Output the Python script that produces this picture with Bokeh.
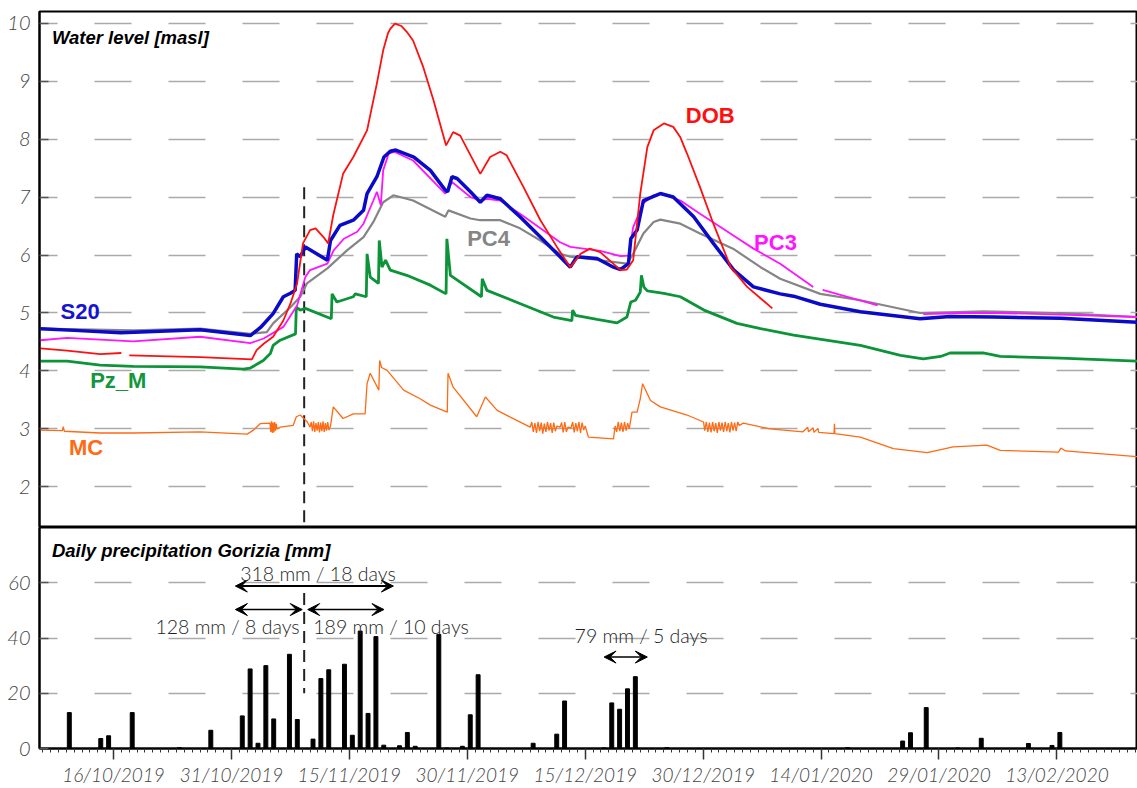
import numpy as np
import pandas as pd
from bokeh.plotting import figure
from bokeh.layouts import column
from bokeh.models import (FixedTicker, DatetimeTickFormatter, Range1d, Label,
                          Arrow, VeeHead)
from bokeh.embed import file_html
from bokeh.resources import INLINE

nan = float("nan")

# ---------------- data ----------------
DAY0 = "2019-10-16"              # reference date for the day offsets below
X_START = "2019-10-06 14:00"
X_END = "2020-02-23 06:00"

tick_labels = ["16/10/2019", "31/10/2019", "15/11/2019", "30/11/2019", "15/12/2019",
               "30/12/2019", "14/01/2020", "29/01/2020", "13/02/2020"]
level_ticks = [2, 3, 4, 5, 6, 7, 8, 9, 10]
precip_ticks = [0, 20, 40, 60]

# water levels [masl] -- days after DAY0
s20_day = [-9.3, -5.0, 0.9, 11.0, 17.4, 18.7, 20.3, 21.6, 22.5, 23.1, 23.3, 23.75, 24.4, 27.2,
           27.6, 28.8, 30.5, 31.8, 32.25, 33.5, 34.4, 35.2, 35.9, 38.2, 40.3, 42.2, 42.5, 43.05,
           43.7, 45.4, 46.65, 47.5, 49.2, 51.7, 54.3, 56.8, 58.1, 58.95, 61.5, 63.6, 64.5, 65.5,
           65.8, 66.6, 67.4, 69.55, 71.2, 73.8, 76.3, 78.9, 81.4, 84.8, 86.5, 89.9, 95.0, 102.6,
           106.4, 112.0, 120.5, 130.3]
s20_level = [4.73, 4.70, 4.66, 4.71, 4.61, 4.75, 4.99, 5.28, 5.34, 5.39, 6.02, 5.97, 6.14, 5.91,
             6.25, 6.51, 6.60, 6.77, 7.06, 7.35, 7.69, 7.79, 7.81, 7.69, 7.46, 7.12, 7.09, 7.35,
             7.32, 7.09, 6.91, 7.03, 6.97, 6.66, 6.31, 5.97, 5.79, 5.97, 5.94, 5.79, 5.75, 5.85,
             6.28, 6.43, 6.94, 7.06, 7.00, 6.66, 6.20, 5.74, 5.45, 5.33, 5.29, 5.15, 5.02, 4.90,
             4.94, 4.93, 4.91, 4.84]

pc3_day = [-9.3, -5.9, 2.5, 11.0, 17.4, 19.1, 21.6, 23.35, 24.4, 25.0, 27.2, 28.0, 29.3, 31.0,
           31.8, 33.05, 33.5, 34.0, 34.3, 35.0, 35.7, 38.1, 42.2, 43.05, 45.4, 46.65, 47.5, 49.2,
           51.7, 54.3, 56.8, 58.1, 61.9, 64.5, 65.5, 66.1, 67.4, 68.7, 69.55, 72.1, 74.6, 78.8,
           81.4, 84.8, 89.0, 89.6, 90.2, 97.2, 100.0, 103.0, 107.7, 112.8, 120.5, 130.3]
pc3_level = [4.53, 4.57, 4.51, 4.59, 4.48, 4.56, 4.76, 5.13, 5.62, 5.74, 5.85, 6.08, 6.28, 6.40,
             6.54, 6.94, 7.09, 6.86, 7.46, 7.75, 7.78, 7.63, 7.06, 7.26, 7.00, 6.94, 6.97, 6.94,
             6.71, 6.46, 6.22, 6.14, 6.07, 5.98, 5.99, 6.48, 6.89, 7.03, 7.06, 6.94, 6.71, 6.34,
             6.11, 5.85, 5.45, nan, 5.40, 5.13, nan, 4.98, 5.00, 5.00, 4.97, 4.93]

pc4_day = [-9.3, 2.5, 11.0, 17.4, 19.5, 20.3, 22.5, 23.75, 24.6, 27.2, 29.7, 31.8, 33.05, 34.3,
           35.6, 38.1, 42.2, 42.6, 45.4, 46.65, 49.2, 51.7, 54.3, 56.8, 58.1, 61.9, 65.3, 66.1,
           67.4, 68.7, 69.55, 72.1, 74.6, 78.8, 82.3, 84.8, 89.9, 95.0, 102.6, 110.6, 120.5, 130.3]
pc4_level = [4.73, 4.70, 4.73, 4.64, 4.67, 4.82, 5.10, 5.28, 5.51, 5.77, 6.08, 6.31, 6.57, 6.91,
             7.03, 6.94, 6.66, 6.77, 6.63, 6.60, 6.60, 6.46, 6.25, 6.02, 5.97, 5.91, 5.85, 6.02,
             6.37, 6.57, 6.61, 6.54, 6.37, 6.11, 5.79, 5.59, 5.33, 5.22, 5.00, 5.03, 5.00, 4.93]

dob_day = [-9.3, -5.9, -1.7, 1.0, 1.5, 2.0, 11.0, 17.6, 18.2, 19.1, 20.3, 21.6, 22.5, 23.35,
           24.1, 25.0, 25.7, 26.7, 27.3, 27.95, 29.2, 30.5, 32.25, 33.5, 34.3, 34.9, 35.2, 35.8,
           36.6, 37.3, 38.1, 39.4, 40.7, 42.3, 43.2, 44.1, 46.65, 47.9, 49.2, 50.0, 52.15, 54.3,
           56.4, 58.1, 59.4, 60.6, 61.9, 64.5, 65.3, 66.1, 67.0, 67.9, 68.7, 70.0, 71.2, 72.1,
           72.95, 74.6, 76.3, 78.5, 80.6, 83.8]
dob_level = [4.39, 4.35, 4.29, 4.31, nan, 4.27, 4.24, 4.20, 4.36, 4.47, 4.59, 4.87, 5.16, 5.51,
             6.20, 6.43, 6.46, 6.31, 6.20, 6.69, 7.40, 7.69, 8.15, 8.96, 9.53, 9.82, 9.90, 9.99,
             9.95, 9.85, 9.70, 9.24, 8.67, 7.89, 8.12, 8.06, 7.40, 7.69, 7.78, 7.72, 7.17, 6.60,
             6.14, 5.79, 6.02, 6.11, 6.05, 5.74, 5.75, 5.91, 7.06, 7.86, 8.15, 8.27, 8.21, 8.03,
             7.75, 7.17, 6.54, 5.79, 5.45, 5.08]

pzm_day = [-9.3, -5.9, -1.7, 2.5, 11.0, 16.5, 17.4, 19.05, 19.95, 20.3, 21.2, 23.15, 23.25,
           23.75, 24.4, 27.7, 27.8, 28.4, 30.5, 30.75, 32.15, 32.25, 32.65, 33.7, 33.8, 34.15,
           34.6, 35.2, 37.3, 40.3, 42.3, 42.4, 42.85, 46.8, 46.9, 47.5, 51.75, 55.95, 58.3, 58.4,
           58.75, 61.5, 64.05, 65.3, 65.8, 66.4, 67.0, 67.15, 67.45, 67.9, 70.0, 72.1, 75.1,
           79.3, 82.3, 86.5, 95.0, 100.1, 103.0, 105.2, 106.4, 110.6, 112.8, 120.5, 130.3]
pzm_level = [4.17, 4.17, 4.10, 4.08, 4.07, 4.03, 4.05, 4.18, 4.30, 4.44, 4.53, 4.64, 5.10,
             5.05, 5.08, 4.90, 5.33, 5.19, 5.28, 5.33, 5.28, 6.02, 5.62, 5.51, 6.25, 5.79,
             5.91, 5.74, 5.65, 5.48, 5.33, 6.28, 5.65, 5.28, 5.59, 5.39, 5.16, 4.93, 4.87, 5.05,
             4.96, 4.89, 4.83, 4.93, 5.19, 5.22, 5.36, 5.65, 5.45, 5.38, 5.34, 5.28, 5.05,
             4.82, 4.73, 4.62, 4.44, 4.27, 4.21, 4.25, 4.31, 4.31, 4.25, 4.22, 4.17]

mc_day = [-9.3, -6.5, -6.4, -6.25, -1.7, 2.5, 11.0, 17.0, 17.8, 18.65, 19.9, 20.0, 20.1, 20.2,
          20.3, 20.4, 20.5, 20.6, 20.7, 20.8, 21.2, 22.85, 23.25, 23.75, 24.65, 25.0, 25.15,
          25.3, 25.45, 25.6, 25.75, 25.9, 26.05, 26.2, 26.35, 26.5, 26.65, 26.8, 26.95, 27.1,
          27.25, 27.4, 27.6, 27.95, 29.2, 30.5, 32.0, 32.25, 32.65, 33.75, 33.85, 34.1, 34.8,
          36.9, 39.0, 40.3, 42.45, 42.55, 43.2, 46.2, 47.3, 48.8, 53.0,
          53.2, 53.4, 53.6, 53.8, 54.0, 54.2, 54.4, 54.6, 54.8, 55.0, 55.2, 55.4, 55.6, 55.8,
          56.0, 56.2, 56.4, 56.8, 57.0, 57.2, 57.4, 57.6, 57.8, 58.2, 58.4, 58.6, 58.8, 59.0,
          59.2, 59.4, 59.6, 59.8, 60.0, 60.4, 63.6,
          63.8, 64.0, 64.2, 64.4, 64.6, 64.8, 65.0, 65.2, 65.4, 65.6,
          65.95, 66.6, 67.0, 67.3, 68.3, 69.55, 72.95, 75.05,
          75.2, 75.4, 75.6, 75.8, 76.0, 76.2, 76.4, 76.6, 76.8, 77.0, 77.2, 77.4, 77.6, 77.8,
          78.0, 78.2, 78.4, 78.6, 78.8, 79.0, 79.2, 79.4, 79.6,
          80.1, 83.5, 87.7, 88.3, 88.4, 89.0, 89.1, 89.6, 89.7, 91.65, 91.7, 91.75, 95.0, 99.2,
          103.5, 106.8, 111.1, 112.8, 120.2, 120.5, 121.1, 123.0, 130.3]
mc_level = [2.98, 2.97, 3.04, 2.96, 2.93, 2.93, 2.95, 2.91, 2.98, 3.09, 3.10, 2.95, 3.13, 2.93,
            3.11, 2.94, 3.12, 2.97, 3.09, 3.00, 3.03, 3.06, 3.21, 3.24, 3.12, 3.03, 3.12,
            2.96, 3.13, 2.95, 3.10, 2.97, 3.12, 2.94, 3.11, 2.96, 3.13, 2.95, 3.10, 2.97,
            3.12, 2.98, 3.05, 3.38, 3.18, 3.26, 3.26, 3.78, 3.96, 3.67, 4.18, 4.06, 4.01,
            3.67, 3.52, 3.41, 3.29, 3.96, 3.72, 3.21, 3.55, 3.32, 3.03,
            3.12, 2.95, 3.10, 2.93, 3.12, 2.96, 3.11, 2.92, 3.09, 2.95, 3.12, 2.97, 3.10, 2.93,
            3.11, 2.96, 3.05, 3.03, 3.11, 2.94, 3.12, 2.95, 3.03, 3.02, 3.12, 2.94, 3.10, 2.96,
            3.12, 2.93, 3.11, 2.98, 3.05, 2.86, 2.83,
            3.05, 2.95, 3.12, 2.96, 3.11, 2.95, 3.12, 2.97, 3.10, 3.00,
            3.29, 3.29, 3.52, 3.78, 3.49, 3.38, 3.24, 3.12,
            2.97, 3.12, 2.95, 3.11, 2.94, 3.12, 2.96, 3.10, 2.93, 3.12, 2.97, 3.11, 2.95, 3.12,
            2.96, 3.10, 2.94, 3.12, 2.97, 3.11, 2.96, 3.12, 3.06,
            3.10, 3.00, 2.95, 3.03, 2.95, 3.02, 2.94, 3.01, 2.94, 2.92, 3.09, 2.92, 2.86, 2.66,
            2.59, 2.69, 2.72, 2.63, 2.60, 2.67, 2.62, 2.60, 2.52]

# daily precipitation Gorizia [mm]
precip_dates = ["2019-10-10", "2019-10-14", "2019-10-15", "2019-10-18", "2019-10-24", "2019-10-28",
                "2019-11-01", "2019-11-02", "2019-11-03", "2019-11-04", "2019-11-05", "2019-11-07",
                "2019-11-08", "2019-11-10", "2019-11-11", "2019-11-12", "2019-11-14", "2019-11-15",
                "2019-11-16", "2019-11-17", "2019-11-18", "2019-11-19", "2019-11-21", "2019-11-22",
                "2019-11-23", "2019-11-26", "2019-11-27", "2019-11-29", "2019-11-30", "2019-12-01",
                "2019-12-08", "2019-12-11", "2019-12-12", "2019-12-17", "2019-12-18", "2019-12-19",
                "2019-12-20", "2019-12-21", "2019-12-25", "2020-01-17", "2020-01-24", "2020-01-25",
                "2020-01-27", "2020-01-31", "2020-02-03", "2020-02-09", "2020-02-12", "2020-02-13"]
precip_mm = [13.0, 3.6, 4.6, 13.0, 0.3, 6.6, 11.8, 28.8, 1.9, 30.0, 10.7, 34.1, 10.5, 3.4, 25.3,
             28.5, 30.5, 4.8, 42.5, 12.7, 40.5, 1.2, 1.0, 5.8, 0.8, 41.3, 0.2, 0.8, 12.2, 26.7,
             1.9, 5.2, 17.2, 0.2, 16.5, 14.2, 21.6, 26.0, 0.3, 0.3, 2.7, 5.7, 14.8, 0.2, 3.7,
             1.8, 1.1, 5.8]

# ---------------- helpers ----------------
base = pd.Timestamp(DAY0)


def to_dt(days):
    return base + pd.to_timedelta(np.asarray(days, dtype=float), unit="D")


def ms(d):
    return (base + pd.Timedelta(days=d)).value / 1e6


x_range = Range1d(start=pd.Timestamp(X_START), end=pd.Timestamp(X_END))
major_ticks = [t.value / 1e6 for t in pd.to_datetime(tick_labels, format="%d/%m/%Y")]
minor_ticks = [t.value / 1e6 for t in pd.date_range(pd.Timestamp(X_START).normalize(),
                                                    pd.Timestamp(X_END), freq="D")]

LABEL_COLOR = "#444444"
GRID_COLOR = "#aaaaaa"
LIGHT_FONT = "Lato Light, Lato, Open Sans, sans-serif"


def style_y(p, ticks):
    ax = p.yaxis[0]
    ax.ticker = FixedTicker(ticks=ticks)
    ax.major_tick_in = 9
    ax.major_tick_out = 0
    ax.minor_tick_in = 0
    ax.minor_tick_out = 0
    ax.axis_line_width = 2
    ax.axis_line_color = "black"
    ax.major_tick_line_color = "#555555"
    ax.major_tick_line_width = 1.5
    ax.major_label_text_font = LIGHT_FONT
    ax.major_label_text_font_style = "italic"
    ax.major_label_text_font_size = "20px"
    ax.major_label_text_color = LABEL_COLOR
    ax.major_label_standoff = 9
    p.ygrid.grid_line_color = GRID_COLOR
    p.ygrid.grid_line_width = 1.5
    p.ygrid.grid_line_dash = "37 37"
    p.ygrid.grid_line_dash_offset = 19
    p.xgrid.visible = False
    p.outline_line_color = "black"
    p.outline_line_width = 2
    p.background_fill_color = "white"
    p.border_fill_color = "white"


# ---------------- top panel ----------------
top = figure(width=1137, height=527, x_axis_type="datetime", x_range=x_range,
             y_range=Range1d(1.3, 10.2), output_backend="svg", toolbar_location=None,
             x_axis_location=None, min_border_left=39, min_border_right=0,
             min_border_top=11, min_border_bottom=0)
style_y(top, level_ticks)

VLINE_DAY = 24.25
top.segment(x0=[to_dt([VLINE_DAY])[0]], y0=[7.17], x1=[to_dt([VLINE_DAY])[0]], y1=[1.3],
            line_color="#222222", line_width=2, line_dash="12 7")

top.line(to_dt(mc_day), mc_level, line_color="#ff6a14", line_width=1.3)
top.line(to_dt(pzm_day), pzm_level, line_color="#0c9438", line_width=2.8)
top.line(to_dt(pc4_day), pc4_level, line_color="#858585", line_width=2.2)
top.line(to_dt(pc3_day), pc3_level, line_color="#ff14ff", line_width=1.8)
top.line(to_dt(s20_day), s20_level, line_color="#0a0ac8", line_width=3.5)
top.line(to_dt(dob_day), dob_level, line_color="#ff1010", line_width=1.8)

top.add_layout(Label(x=ms(-7.84), y=9.76, text="Water level [masl]", text_font="Liberation Sans",
                     text_font_style="bold italic", text_font_size="18.5px", text_color="black",
                     text_align="left", text_baseline="middle"))

series_labels = [("S20", -4.24, 5.03, "#1414d2"), ("Pz_M", 0.6, 3.84, "#14963c"),
                 ("MC", -3.5, 2.68, "#ff6a14"), ("DOB", 75.9, 8.41, "#ff1010"),
                 ("PC4", 47.7, 6.29, "#858585"), ("PC3", 84.2, 6.22, "#ff14ff")]
for txt, dx, yy, col in series_labels:
    top.add_layout(Label(x=ms(dx), y=yy, text=txt, text_font="Liberation Sans",
                         text_font_style="bold", text_font_size="22px", text_color=col,
                         text_align="center", text_baseline="middle"))

# ---------------- bottom panel ----------------
bot = figure(width=1137, height=261, x_axis_type="datetime", x_range=x_range,
             y_range=Range1d(0, 80), output_backend="svg", toolbar_location=None,
             min_border_left=39, min_border_right=0, min_border_top=0, min_border_bottom=40)
style_y(bot, precip_ticks)

xa = bot.xaxis[0]
xa.ticker = FixedTicker(ticks=major_ticks, minor_ticks=minor_ticks)
fmt = "%d/%m/%Y"
xa.formatter = DatetimeTickFormatter(microseconds=fmt, milliseconds=fmt, seconds=fmt,
                                     minsec=fmt, minutes=fmt, hourmin=fmt, hours=fmt,
                                     days=fmt, months=fmt, years=fmt)
xa.major_tick_in = 0
xa.major_tick_out = 11
xa.minor_tick_in = 0
xa.minor_tick_out = 4
xa.axis_line_width = 2
xa.axis_line_color = "black"
xa.major_tick_line_width = 1.5
xa.major_tick_line_color = "#333333"
xa.minor_tick_line_color = "#333333"
xa.minor_tick_line_width = 1
xa.major_label_text_font = LIGHT_FONT
xa.major_label_text_font_style = "italic"
xa.major_label_text_font_size = "19px"
xa.major_label_text_color = LABEL_COLOR
xa.major_label_standoff = 3

precip_x = pd.to_datetime(precip_dates) + pd.Timedelta(hours=9)
bot.vbar(x=precip_x, top=precip_mm, width=0.5 * 86400000, fill_color="black",
         line_color="black")

bot.segment(x0=[to_dt([VLINE_DAY])[0]], y0=[56.3], x1=[to_dt([VLINE_DAY])[0]], y1=[20],
            line_color="#222222", line_width=2, line_dash="12 7")

bot.add_layout(Label(x=ms(-7.84), y=71.7, text="Daily precipitation Gorizia [mm]",
                     text_font="Liberation Sans", text_font_style="bold italic",
                     text_font_size="18.5px", text_color="black", text_align="left",
                     text_baseline="middle"))

arrows = [(15.5, 35.6, 58.8, 2.0), (15.5, 24.0, 50.3, 1.5), (24.7, 34.4, 50.3, 1.5),
          (62.4, 67.9, 33.1, 1.5)]
for d0, d1, yy, lw in arrows:
    bot.add_layout(Arrow(x_start=ms(d0), y_start=yy, x_end=ms(d1), y_end=yy,
                         line_color="black", line_width=lw,
                         start=VeeHead(size=12, fill_color="black", line_color="black"),
                         end=VeeHead(size=12, fill_color="black", line_color="black")))

notes = [("318 mm / 18 days", 26.0, 63.4), ("128 mm / 8 days", 14.5, 44.2),
         ("189 mm / 10 days", 35.3, 44.2), ("79 mm / 5 days", 67.1, 41.0)]
for txt, dx, yy in notes:
    bot.add_layout(Label(x=ms(dx), y=yy, text=txt, text_font=LIGHT_FONT,
                         text_font_size="19.5px", text_color="#1e1e1e",
                         text_align="center", text_baseline="middle"))

layout = column(top, bot, spacing=0)
open("out.html", "w").write(file_html(layout, INLINE))
